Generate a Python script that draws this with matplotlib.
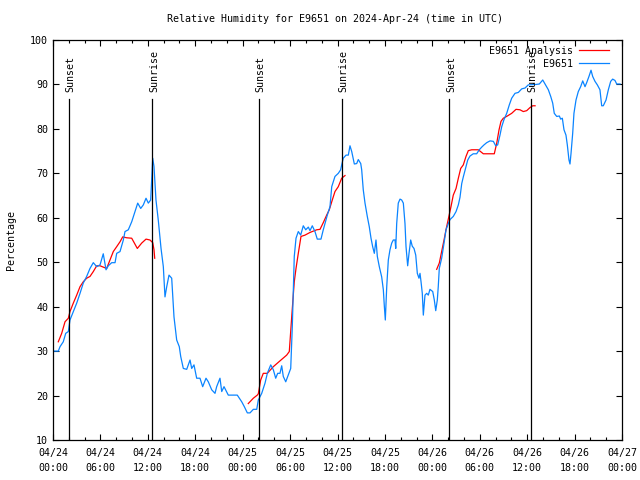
import matplotlib
matplotlib.use("Agg")
import matplotlib.pyplot as plt
from matplotlib.ticker import MultipleLocator

# ---- data (hours since 2024-04-24 00:00 UTC) ----
obs_hours = [0.0, 0.67, 0.89, 1.30, 1.61, 1.94, 2.15, 2.57, 3.00, 3.42, 3.83, 4.26, 4.68, 5.10,
             5.53, 5.95, 6.36, 6.71, 7.00, 7.43, 7.85, 8.06, 8.48, 8.90, 9.11, 9.53, 9.96, 10.38,
             10.72, 11.10, 11.43, 11.77, 12.06, 12.36, 12.62, 12.78, 13.03, 13.32, 13.67, 13.96,
             14.17, 14.39, 14.68, 15.02, 15.31, 15.65, 15.98, 16.16, 16.49, 16.92, 17.34, 17.55,
             17.84, 18.18, 18.60, 18.94, 19.36, 19.65, 20.08, 20.50, 20.71, 21.13, 21.35, 21.64,
             22.18, 23.32, 23.88, 24.21, 24.59, 24.93, 25.35, 25.78, 25.98, 26.41, 26.83, 27.12,
             27.55, 27.88, 28.18, 28.43, 28.72, 28.94, 29.14, 29.45, 29.77, 30.08, 30.28, 30.41,
             30.53, 30.75, 31.04, 31.34, 31.67, 31.98, 32.31, 32.52, 32.81, 33.15, 33.44, 33.91,
             34.20, 34.71, 35.05, 35.27, 35.68, 36.10, 36.40, 36.53, 36.73, 37.08, 37.37, 37.58,
             37.80, 38.13, 38.43, 38.63, 38.94, 39.06, 39.26, 39.48, 39.77, 40.02, 40.24, 40.45,
             40.66, 40.87, 41.04, 41.29, 41.59, 41.80, 41.93, 42.05, 42.23, 42.43, 42.64, 42.86,
             43.06, 43.28, 43.37, 43.49, 43.69, 43.91, 44.12, 44.33, 44.54, 44.67, 44.88, 45.05,
             45.26, 45.46, 45.68, 45.90, 46.10, 46.31, 46.44, 46.57, 46.73, 46.86, 47.07, 47.29,
             47.49, 47.70, 48.05, 48.25, 48.43, 48.63, 48.75, 48.88, 49.18, 49.48, 49.73, 50.02,
             50.24, 50.65, 51.00, 51.29, 51.50, 51.72, 51.92, 52.26, 52.48, 52.77, 53.18, 53.61,
             53.94, 54.25, 54.54, 54.88, 55.30, 55.72, 56.02, 56.27, 56.56, 56.78, 57.07, 57.41,
             57.74, 58.04, 58.46, 58.88, 59.31, 59.73, 60.14, 61.12, 61.54, 61.97, 62.26, 62.68,
             62.98, 63.23, 63.43, 63.74, 64.07, 64.24, 64.45, 64.66, 64.91, 65.08, 65.29, 65.42,
             65.55, 65.76, 65.92, 66.18, 66.47, 66.77, 67.03, 67.32, 67.53, 67.82, 68.08, 68.29,
             68.58, 68.88, 69.21, 69.43, 69.63, 69.98, 70.27, 70.57, 70.82, 71.11, 71.33, 71.75]
obs_values = [30.0, 30.0, 31.0, 32.1, 34.0, 34.4, 37.0, 38.9, 40.8, 43.0, 45.3, 46.8, 48.6, 49.9,
              49.0, 49.4, 51.9, 48.3, 49.2, 49.9, 49.9, 52.0, 52.4, 55.0, 56.9, 57.3, 59.1, 61.4,
              63.3, 62.1, 62.9, 64.4, 63.3, 64.0, 73.4, 71.5, 64.0, 59.5, 53.1, 49.0,
              42.2, 44.5, 47.1, 46.4, 37.7, 32.5, 31.0, 28.8, 26.1, 25.9, 28.0, 26.1,
              26.9, 23.9, 23.9, 22.0, 23.9, 23.1, 21.3, 20.5, 22.0, 23.9, 20.9, 22.0,
              20.1, 20.1, 18.6, 17.5, 16.1, 16.1, 16.9, 16.9, 19.0, 20.5, 22.8, 25.0,
              26.9, 25.8, 23.9, 25.0, 25.0, 26.7, 24.3, 23.1, 24.6, 26.1, 35.5, 43.8,
              51.3, 55.4, 56.9, 56.1, 58.2, 57.3, 57.9, 57.1, 58.2, 56.9, 55.2, 55.2,
              57.3, 60.6, 62.5, 67.0, 69.3, 70.0, 70.8, 71.9, 73.4, 74.1, 74.1, 76.2,
              74.9, 72.1, 72.2, 73.1, 72.2, 70.8, 66.3, 63.3, 60.3, 58.0, 55.4, 53.5,
              52.0, 55.0, 51.3, 49.0, 46.7, 43.8, 40.0, 37.0, 44.5, 50.5, 52.8, 54.3,
              55.0, 55.0, 53.1, 58.7, 63.3, 64.2, 64.0, 63.3, 58.7, 53.5, 49.2, 52.0,
              55.0, 53.6, 53.1, 51.6, 47.5, 46.4, 47.5, 45.6, 43.0, 38.1, 42.6, 43.0,
              42.6, 43.9, 43.4, 41.5, 39.1, 41.5, 44.5, 48.6, 50.9, 54.3, 57.3, 58.7,
              59.6, 60.3, 61.4, 62.9, 64.6, 67.7, 69.2, 71.5, 73.0, 73.9, 74.4, 74.4,
              75.3, 75.9, 76.4, 76.9, 77.3, 77.2, 76.2, 76.4, 78.6, 80.5, 82.1, 83.5,
              85.4, 86.9, 88.0, 88.2, 89.0, 89.2, 89.9, 90.0, 90.1, 91.0, 90.1, 88.8,
              87.3, 85.8, 83.5, 82.8, 82.9, 82.2, 82.4, 79.8, 78.6, 76.4, 73.0, 72.1,
              74.5, 79.0, 83.5, 86.5, 88.4, 89.5, 90.8, 89.5, 90.4, 91.8, 93.2, 91.8,
              90.7, 89.9, 88.8, 85.2, 85.2, 86.5, 88.8, 90.7, 91.2, 90.9, 90.1, 90.1]

ana1_hours = [0.67, 1.10, 1.52, 1.94, 2.15, 2.57, 3.00, 3.42, 3.83, 4.26, 4.68, 5.10, 5.53, 5.95,
              6.36, 6.79, 7.21, 7.63, 8.06, 8.48, 8.82, 9.32, 9.96, 10.67, 11.22, 11.77, 12.27,
              12.62, 12.78, 12.87]
ana1_values = [32.1, 34.0, 36.6, 37.4, 38.9, 40.8, 42.6, 44.5, 45.6, 46.4, 46.8, 47.9, 49.2, 49.2,
               48.9, 48.6, 50.5, 52.4, 53.5, 54.6, 55.7, 55.5, 55.4, 53.1, 54.3, 55.2, 55.0,
               54.4, 52.8, 50.9]
ana2_hours = [24.71, 25.35, 25.85, 25.98, 26.28, 26.61, 27.12, 27.88, 28.72, 29.57, 29.90, 30.12,
              30.33, 30.53, 30.75, 31.04, 31.38, 31.89, 32.52, 33.37, 33.79, 34.20, 34.63, 34.96,
              35.27, 35.68, 36.10, 36.53, 36.95]
ana2_values = [18.2, 19.4, 20.1, 20.4, 23.5, 25.0, 25.0, 26.5, 27.8, 29.1, 29.9, 35.5,
               40.8, 45.6, 48.6, 52.0, 55.8, 56.1, 56.7, 57.3, 57.4, 58.9, 60.6, 61.8,
               63.6, 65.9, 67.0, 68.9, 69.5]
ana3_hours = [48.55, 48.88, 49.18, 49.48, 49.73, 50.02, 50.36, 50.65, 51.00, 51.29, 51.59, 51.92,
              52.26, 52.55, 52.98, 53.82, 54.45, 55.84, 56.15, 56.44, 56.69, 56.98, 57.49, 58.04,
              58.59, 59.09, 59.51, 59.94, 60.36, 60.70, 61.00]
ana3_values = [48.4, 49.8, 52.4, 55.0, 57.3, 59.7, 62.5, 65.1, 66.6, 68.9, 71.1, 71.9,
               73.8, 75.1, 75.3, 75.3, 74.4, 74.4, 76.8, 79.8, 81.7, 82.4, 82.9, 83.5,
               84.4, 84.3, 83.9, 84.1, 84.8, 85.2, 85.2]

sun_hours = [2.06, 12.57, 26.10, 36.53, 50.15, 60.52]
sun_labels = ["Sunset", "Sunrise", "Sunset", "Sunrise", "Sunset", "Sunrise"]

xtick_hours = [0, 6, 12, 18, 24, 30, 36, 42, 48, 54, 60, 66, 72]
xtick_labels = ["04/24\n00:00", "04/24\n06:00", "04/24\n12:00", "04/24\n18:00",
                "04/25\n00:00", "04/25\n06:00", "04/25\n12:00", "04/25\n18:00",
                "04/26\n00:00", "04/26\n06:00", "04/26\n12:00", "04/26\n18:00",
                "04/27\n00:00"]

title = "Relative Humidity for E9651 on 2024-Apr-24 (time in UTC)"

# ---- drawing ----
plt.rcParams['font.family'] = ['DejaVu Sans Mono']
FS = 7.2
fig = plt.figure(figsize=(6.4, 4.8), dpi=100)
ax = fig.add_axes([53 / 640, 40 / 480, 569 / 640, 400 / 480])

red = '#ff0000'
blue = '#0a84ff'
lw = 0.9

ax.plot(ana1_hours, ana1_values, color=red, lw=lw, label='E9651 Analysis')
ax.plot(ana2_hours, ana2_values, color=red, lw=lw)
ax.plot(ana3_hours, ana3_values, color=red, lw=lw)
ax.plot(obs_hours, obs_values, color=blue, lw=lw, label='E9651')

for h, lab in zip(sun_hours, sun_labels):
    ax.plot([h, h], [10, 86.7], color='black', lw=0.9)
    ax.text(h + 0.2, 88.2, lab, rotation=90, ha='center', va='bottom', fontsize=FS)

ax.set_xlim(0, 72)
ax.set_ylim(10, 100)
ax.set_xticks(xtick_hours)
ax.set_xticklabels(xtick_labels, fontsize=FS, linespacing=1.6)
ax.xaxis.set_minor_locator(MultipleLocator(2))
ax.set_yticks(range(10, 101, 10))
ax.tick_params(axis='y', labelsize=FS)
ax.tick_params(which='both', direction='in', top=True, right=True, width=0.8)
ax.tick_params(which='major', length=4.5)
ax.tick_params(which='minor', length=2.5)
ax.tick_params(axis='x', pad=6)
for s in ax.spines.values():
    s.set_linewidth(0.9)

ax.set_ylabel('Percentage', fontsize=FS, labelpad=10)
fig.text(335 / 640, 1 - 19 / 480, title, ha='center', va='center', fontsize=FS)

leg = ax.legend(loc='upper right', bbox_to_anchor=(1 - 7 / 569, 1.0), frameon=False,
                fontsize=FS, markerfirst=False, handlelength=3.0, borderaxespad=0.2,
                labelspacing=0.3, handletextpad=0.6)

fig.savefig('out.png', dpi=100)
